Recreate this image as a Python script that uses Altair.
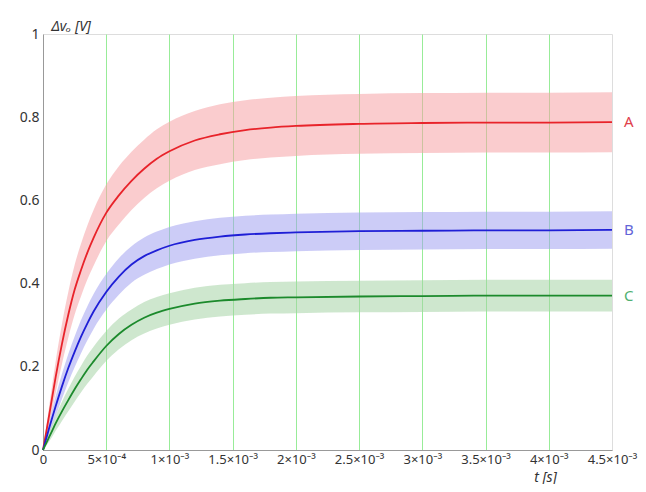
import altair as alt
import pandas as pd

# time points [s]
t = [0, 0.25e-4, 0.5e-4, 0.75e-4, 1e-4, 1.5e-4, 2e-4, 2.5e-4, 3e-4, 3.5e-4, 4e-4,
     5e-4, 6e-4, 7e-4, 8e-4, 9e-4, 1e-3, 1.2e-3, 1.4e-3, 1.6e-3, 1.8e-3, 2e-3,
     2.5e-3, 3e-3, 3.5e-3, 4e-3, 4.5e-3]

a_mid = [0, 0.042, 0.086, 0.131, 0.175, 0.255, 0.325, 0.385, 0.432, 0.474, 0.51,
         0.57, 0.612, 0.647, 0.676, 0.70, 0.718, 0.744, 0.759, 0.769, 0.775, 0.779,
         0.784, 0.786, 0.787, 0.787, 0.788]
b_mid = [0, 0.027, 0.054, 0.08, 0.105, 0.153, 0.197, 0.236, 0.272, 0.304, 0.333,
         0.38, 0.417, 0.446, 0.466, 0.48, 0.491, 0.505, 0.513, 0.518, 0.521, 0.523,
         0.526, 0.527, 0.528, 0.528, 0.529]
c_mid = [0, 0.016, 0.032, 0.048, 0.064, 0.093, 0.12, 0.146, 0.17, 0.193, 0.213,
         0.25, 0.279, 0.301, 0.318, 0.33, 0.339, 0.352, 0.359, 0.363, 0.366, 0.367,
         0.369, 0.37, 0.371, 0.371, 0.371]

# half-widths of the ripple band
a_half = [0, 0.012, 0.022, 0.03, 0.038, 0.048, 0.055, 0.06, 0.063, 0.065, 0.067,
          0.068, 0.07, 0.07, 0.07, 0.071, 0.071, 0.071, 0.072, 0.072, 0.072, 0.072,
          0.072, 0.072, 0.072, 0.072, 0.072]
b_half = [0, 0.008, 0.014, 0.02, 0.024, 0.03, 0.034, 0.037, 0.04, 0.041, 0.042,
          0.043, 0.044, 0.044, 0.045, 0.045, 0.045, 0.045, 0.045, 0.045, 0.045, 0.045,
          0.045, 0.045, 0.045, 0.045, 0.045]
c_half = [0, 0.006, 0.011, 0.015, 0.018, 0.023, 0.027, 0.03, 0.032, 0.034, 0.035,
          0.036, 0.037, 0.037, 0.038, 0.038, 0.038, 0.038, 0.038, 0.038, 0.038, 0.038,
          0.038, 0.038, 0.038, 0.038, 0.038]

series = ["A", "B", "C"]
line_colors = ["#e8232a", "#1f1fd6", "#1c8a2c"]
band_colors = ["#f5a3a6", "#a3a3f0", "#a6d4a6"]
label_colors = ["#e0404a", "#6464d8", "#4fb070"]

x_labels = ["0", "5×10⁻⁴", "1×10⁻³", "1.5×10⁻³", "2×10⁻³", "2.5×10⁻³",
            "3×10⁻³", "3.5×10⁻³", "4×10⁻³", "4.5×10⁻³"]
x_ticks = [0, 5e-4, 1e-3, 1.5e-3, 2e-3, 2.5e-3, 3e-3, 3.5e-3, 4e-3, 4.5e-3]
y_ticks = [0, 0.2, 0.4, 0.6, 0.8, 1]

rows = []
for s, mid, half in zip(series, [a_mid, b_mid, c_mid], [a_half, b_half, c_half]):
    for ti, m, h in zip(t, mid, half):
        rows.append({"t": ti, "v": m, "lo": m - h, "hi": m + h, "s": s})
df = pd.DataFrame(rows)
last = df[df["t"] == t[-1]]

label_js = "[" + ",".join("'" + l + "'" for l in x_labels) + "][round(datum.value/0.0005)]"

XFONT = "Noto Sans"

xscale = alt.Scale(domain=[0, 0.0045], nice=False, zero=False)
yscale = alt.Scale(domain=[0, 1], nice=False)

x_enc = alt.X("t:Q", scale=xscale, axis=alt.Axis(
    values=x_ticks, labelExpr=label_js, title="t [s]", titleFontStyle="italic",
    titleFont=XFONT, titleFontSize=14, titleFontWeight="normal", titleColor="#333",
    titleX=502, titleY=31, titleAlign="center", titleBaseline="alphabetic",
    labelFont=XFONT, labelFontSize=13, labelColor="#333", labelPadding=3,
    labelFlush=False, labelOverlap=False,
    ticks=False, domainColor="#999", grid=True,
    gridColor={"condition": {"test": "datum.value < 0.0001 || datum.value > 0.0044", "value": "rgba(0,0,0,0)"}, "value": "#98ec98"},
    gridWidth=1, gridOpacity=1))
y_enc = alt.Y("v:Q", scale=yscale, axis=alt.Axis(
    values=y_ticks, format="~g", title="Δvₒ [V]", titleFontStyle="italic",
    titleFont=XFONT, titleFontSize=14, titleFontWeight="normal", titleColor="#333",
    titleAngle=0, titleX=8, titleY=-4, titleAlign="left", titleBaseline="alphabetic",
    labelFont=XFONT, labelFontSize=14, labelColor="#333", labelPadding=4,
    labelFlush=False, ticks=False, domainColor="#999", grid=False))

band = alt.Chart(df).mark_area(opacity=0.55, interpolate="monotone").encode(
    x=x_enc, y=y_enc, y2="hi:Q",
    color=alt.Color("s:N", scale=alt.Scale(domain=series, range=band_colors), legend=None),
    detail="s:N",
).transform_calculate(v="datum.lo")

line = alt.Chart(df).mark_line(strokeWidth=1.8, interpolate="monotone").encode(
    x="t:Q", y="v:Q",
    color=alt.Color("s:N", scale=alt.Scale(domain=series, range=line_colors), legend=None),
)

labels = alt.Chart(last).mark_text(align="left", dx=12, fontSize=15, font=XFONT,
                                   baseline="middle").encode(
    x="t:Q", y="v:Q", text="s:N",
    color=alt.Color("s:N", scale=alt.Scale(domain=series, range=label_colors), legend=None),
)

chart = alt.layer(band, line, labels).resolve_scale(color="independent").properties(
    width=569, height=416,
    autosize=alt.AutoSizeParams(type="none"),
    padding={"left": 35, "top": 26, "right": 26, "bottom": 34},
).configure_view(stroke="#999", strokeWidth=1).configure(background="white")

chart.save("out.html", embed_options={"renderer": "svg", "actions": False})
